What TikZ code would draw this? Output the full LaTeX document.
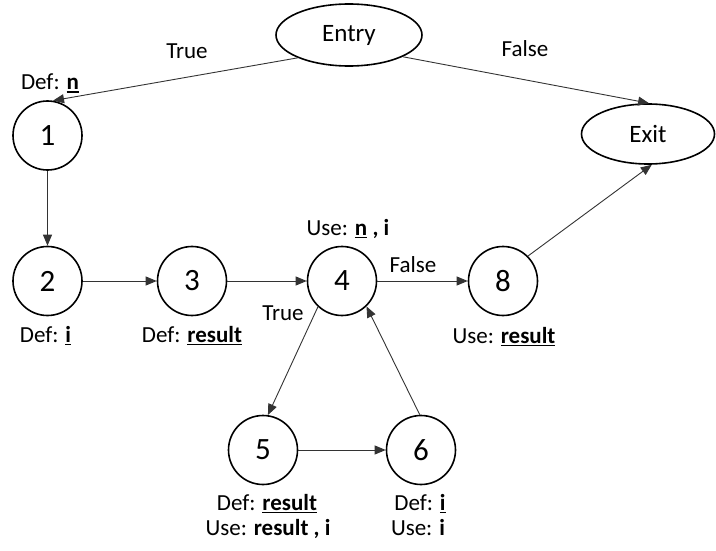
\documentclass[tikz,border=0pt]{standalone}
\usepackage{fontspec}
\setmainfont{Carlito}
\usetikzlibrary{arrows.meta,shapes.geometric}
\newcommand{\myul}[1]{\leavevmode\vtop{\hbox{\textbf{#1}}\kern1.5pt\hrule height 1.8pt}}
\tikzset{
  lbl/.style={anchor=base, inner sep=0pt, font=\fontsize{23}{27}\selectfont},
  circ/.style={circle, draw, line width=1.6pt, minimum size=69pt, inner sep=0pt, font=\fontsize{31}{36}\selectfont},
  oval/.style={ellipse, draw, line width=1.6pt, inner sep=0pt, font=\fontsize{25}{30}\selectfont},
  edge/.style={draw=black!80, line width=0.9pt, -{Triangle[length=11pt,width=9pt]}}
}
\begin{document}
\begin{tikzpicture}[x=1pt,y=-1pt]
\useasboundingbox (0,0) rectangle (716,551);
% nodes
\node[oval, minimum width=146pt, minimum height=62pt] (entry) at (349,35) {Entry};
\node[oval, minimum width=133pt, minimum height=60pt] (exit) at (648,134) {Exit};
\node[circ] (n1) at (47.5,135.5) {1};
\node[circ] (n2) at (47.5,281) {2};
\node[circ] (n3) at (192,281) {3};
\node[circ] (n4) at (342,281) {4};
\node[circ] (n8) at (503,281) {8};
\node[circ] (n5) at (263,450) {5};
\node[circ] (n6) at (421,450) {6};
% edges
\draw[edge] (entry.204) -- (n1.81);
\draw[edge] (entry.-22.5) -- (exit.88);
\draw[edge] (n1) -- (n2);
\draw[edge] (n2) -- (n3);
\draw[edge] (n3) -- (n4);
\draw[edge] (n4) -- (n8);
\draw[edge] (n4.227) -- (n5.82);
\draw[edge] (n5) -- (n6);
\draw[edge] (n6.92) -- (n4.-46);
\draw[edge] (n8.45) -- (exit.-83);
% labels
\node[lbl] (tTrue) at (187,59) {True};
\node[lbl] (tFalse) at (525,57) {False};
\node[lbl] (d1) at (50,90) {Def: \myul{n}};
\node[lbl] (d2) at (45.5,342) {Def: \myul{i}};
\node[lbl] (d3) at (192,342) {Def: \myul{result}};
\node[lbl] (t4) at (283,320) {True};
\node[lbl] (u4) at (348,235) {Use: \myul{n}\textbf{ , i}};
\node[lbl] (f4) at (413,272) {False};
\node[lbl] (u8) at (504,343) {Use: \myul{result}};
\node[lbl] (d5) at (267,510) {Def: \myul{result}};
\node[lbl] (u5) at (268,535) {Use: \textbf{result , i}};
\node[lbl] (d6) at (420,510) {Def: \myul{i}};
\node[lbl] (u6) at (418,535) {Use: \textbf{i}};
\end{tikzpicture}
\end{document}
